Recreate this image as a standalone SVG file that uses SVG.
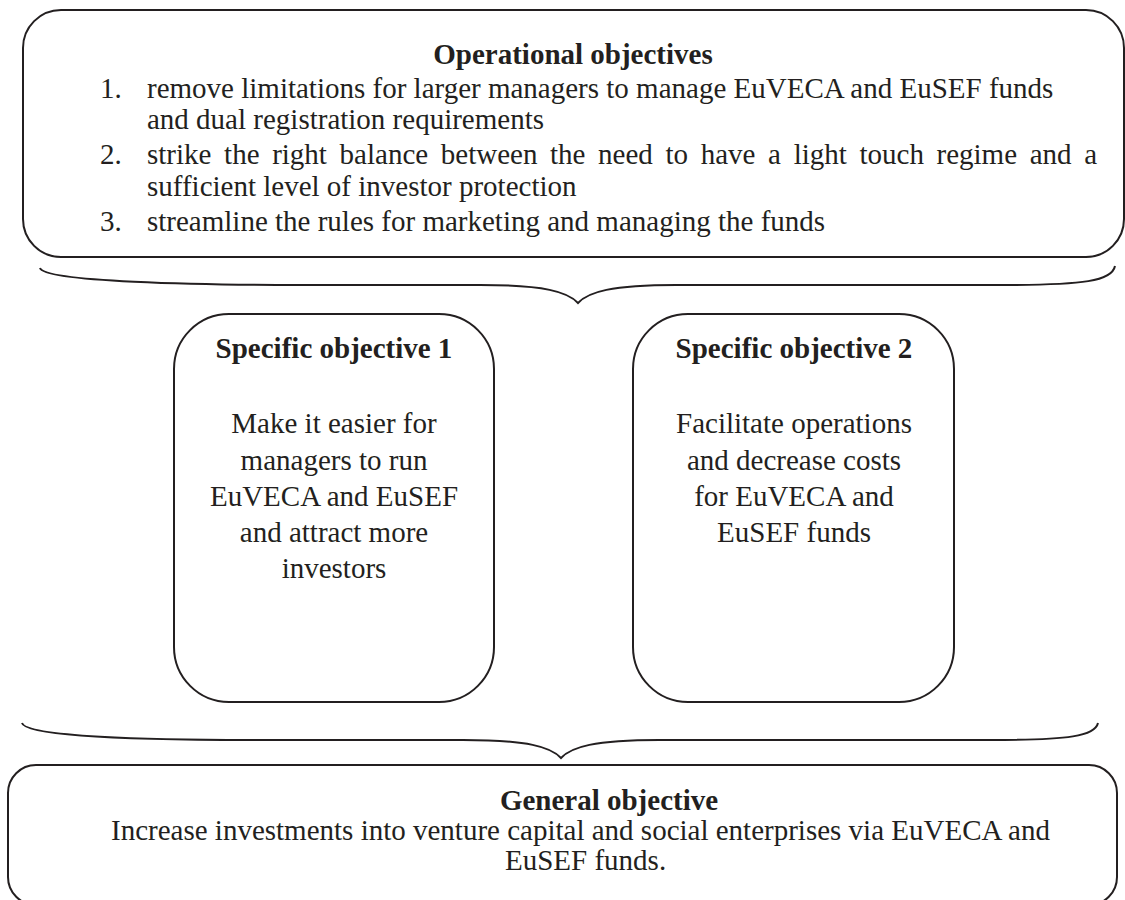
<svg xmlns="http://www.w3.org/2000/svg" width="1125" height="900" viewBox="0 0 1125 900">
<style>
.box{fill:#fff;stroke:#231f20;stroke-width:2}
.brace{fill:none;stroke:#231f20;stroke-width:2}
text{font-family:"Liberation Serif","Times New Roman",serif;font-size:29px;fill:#231f20}
.b{font-weight:bold}
.c{text-anchor:middle}
</style>
<rect width="1125" height="900" fill="#fff"/>
<g id="operational">
<rect class="box" x="23" y="10" width="1101" height="247" rx="38" ry="38"/>
<text class="b c" x="573" y="64">Operational objectives</text>
<text x="100" y="98">1.</text><text x="147" y="98">remove limitations for larger managers to manage EuVECA and EuSEF funds</text>
<text x="147" y="129">and dual registration requirements</text>
<text x="100" y="164">2.</text><text x="147" y="164" word-spacing="5.4">strike the right balance between the need to have a light touch regime and a</text>
<text x="147" y="196">sufficient level of investor protection</text>
<text x="100" y="231">3.</text><text x="147" y="231">streamline the rules for marketing and managing the funds</text>
</g>
<g id="connectors">
<path class="brace" d="M40,268 C44,282 200,285 300,285 L480,285 C545,285 568,292 578,303 C588,292 611,285 676,285 L1000,285 C1085,285 1112,281 1115,266"/>
<path class="brace" d="M22,723 C26,737 150,740 250,740 L463,740 C528,740 551,747 561,758 C571,747 594,740 659,740 L990,740 C1070,740 1095,736 1098,723"/>
</g>
<g id="specific1">
<rect class="box" x="174" y="314" width="320" height="388" rx="55" ry="55"/>
<text class="b c" x="334" y="358">Specific objective 1</text>
<text class="c" x="334" y="433">Make it easier for</text>
<text class="c" x="334" y="470">managers to run</text>
<text class="c" x="334" y="506">EuVECA and EuSEF</text>
<text class="c" x="334" y="542">and attract more</text>
<text class="c" x="334" y="578">investors</text>
</g>
<g id="specific2">
<rect class="box" x="633" y="314" width="321" height="388" rx="55" ry="55"/>
<text class="b c" x="794" y="358">Specific objective 2</text>
<text class="c" x="794" y="433">Facilitate operations</text>
<text class="c" x="794" y="470">and decrease costs</text>
<text class="c" x="794" y="506">for EuVECA and</text>
<text class="c" x="794" y="542">EuSEF funds</text>
</g>
<g id="general">
<rect class="box" x="8" y="765" width="1109" height="140" rx="28" ry="28"/>
<text class="b c" x="609" y="810">General objective</text>
<text x="111" y="840">Increase investments into venture capital and social enterprises via EuVECA and</text>
<text x="505" y="870">EuSEF funds.</text>
</g>
</svg>
